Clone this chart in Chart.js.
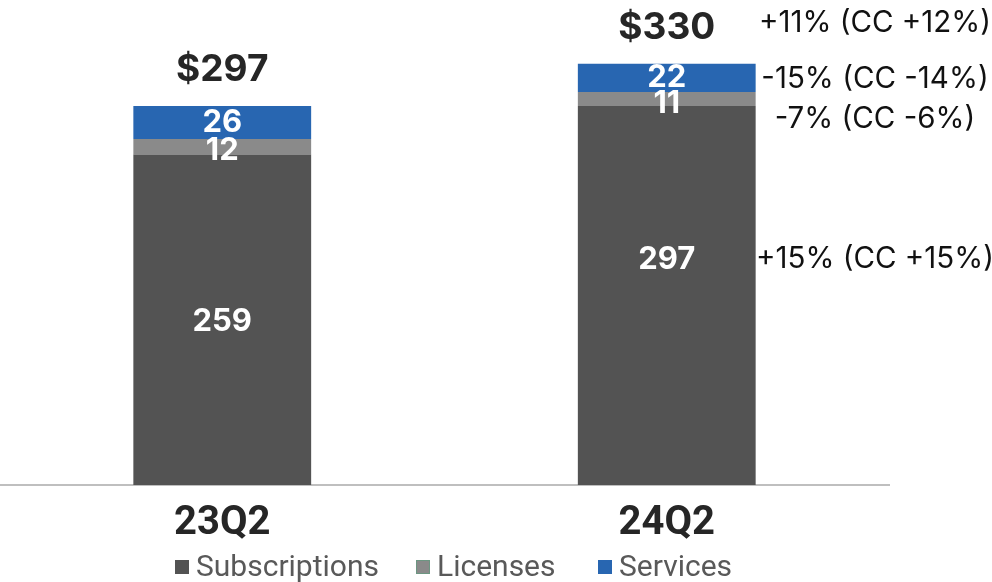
<!DOCTYPE html>
<html>
<head>
<meta charset="utf-8">
<script src="https://cdn.jsdelivr.net/npm/chart.js@4.4.1/dist/chart.umd.min.js"></script>
<style>
  html, body { margin: 0; padding: 0; background: #fff; }
  #wrap { width: 992px; height: 582px; }
</style>
</head>
<body>
<div id="wrap"><canvas id="chart_rev" width="992" height="582"></canvas></div>
<script>
// chart values
const categories = ["23Q2", "24Q2"];
const subscriptions = [259, 297];
const licenses = [12, 11];
const services = [26, 22];
const totalLabels = ["$297", "$330"];
// growth notes shown next to the 24Q2 bar (total, services, licenses, subscriptions)
const growthTotal = "+11% (CC +12%)";
const growthServices = "-15% (CC -14%)";
const growthLicenses = "-7% (CC -6%)";
const growthSubscriptions = "+15% (CC +15%)";

const colSubs = "#535353";
const colLic = "#8a8a8a";
const colServ = "#2866b1";

// labels inside segments, totals on top, notes on the right
const labelPlugin = {
  id: "labelPlugin",
  afterDatasetsDraw(chart) {
    const ctx = chart.ctx;
    ctx.save();
    ctx.textAlign = "center";
    ctx.textBaseline = "middle";

    // segment values
    const segOffsets = [
      [2, -36],  // subscriptions
      [4, 5],    // licenses
      [0, 0],    // services
    ];
    chart.data.datasets.forEach((ds, di) => {
      const meta = chart.getDatasetMeta(di);
      meta.data.forEach((bar, i) => {
        const mid = (bar.y + bar.base) / 2 + segOffsets[di][i];
        ctx.fillStyle = "#ffffff";
        ctx.font = "bold 31px Inter, 'DejaVu Sans', sans-serif";
        ctx.fillText(ds.data[i], bar.x, mid);
      });
    });

    // totals
    const topMeta = chart.getDatasetMeta(2);
    topMeta.data.forEach((bar, i) => {
      ctx.fillStyle = "#262626";
      ctx.font = "bold 37px Inter, 'DejaVu Sans', sans-serif";
      ctx.fillText(totalLabels[i], bar.x, bar.y - 36);
    });

    // growth notes for the last bar
    const last = categories.length - 1;
    const noteX = 875;
    const sBar = chart.getDatasetMeta(0).data[last];
    const lBar = chart.getDatasetMeta(1).data[last];
    const vBar = chart.getDatasetMeta(2).data[last];
    ctx.fillStyle = "#111111";
    ctx.font = "29.5px Inter, 'DejaVu Sans', sans-serif";
    ctx.fillText(growthTotal, noteX, vBar.y - 41);
    ctx.fillText(growthServices, noteX, (vBar.y + vBar.base) / 2 + 1);
    ctx.fillText(growthLicenses, noteX, (lBar.y + lBar.base) / 2 + 20);
    ctx.fillText(growthSubscriptions, noteX, (sBar.y + sBar.base) / 2 - 36);

    // legend
    const items = [
      { text: "Subscriptions", color: colSubs, x: 175 },
      { text: "Licenses", color: colLic, x: 416, dotted: true },
      { text: "Services", color: colServ, x: 598 },
    ];
    ctx.textAlign = "left";
    ctx.font = "30px Roboto, 'Liberation Sans', sans-serif";
    items.forEach((it) => {
      ctx.fillStyle = it.color;
      ctx.fillRect(it.x, 560, 14, 14);
      if (it.dotted) {
        ctx.strokeStyle = "#4fa37a";
        ctx.lineWidth = 1;
        ctx.setLineDash([1, 1]);
        ctx.strokeRect(it.x + 0.5, 560.5, 13, 13);
        ctx.setLineDash([]);
      }
      ctx.fillStyle = "#595959";
      ctx.fillText(it.text, it.x + 21, 568);
    });
    ctx.restore();
  },
};

function initializeRevenueChart() {
  const ctx1 = document.getElementById("chart_rev").getContext("2d");
  return new Chart(ctx1, {
    type: "bar",
    data: {
      labels: categories,
      datasets: [
        { label: "Subscriptions", data: subscriptions, backgroundColor: colSubs },
        { label: "Licenses", data: licenses, backgroundColor: colLic },
        { label: "Services", data: services, backgroundColor: colServ },
      ],
    },
    options: {
      responsive: false,
      animation: false,
      layout: { padding: { left: 0, right: 103, top: 0, bottom: 19 } },
      datasets: {
        bar: { barPercentage: 0.4, categoryPercentage: 1.0 },
      },
      scales: {
        x: {
          stacked: true,
          grid: { display: false, drawTicks: false },
          border: { display: true, color: "#bfbfbf", width: 2 },
          ticks: {
            color: "#262626",
            padding: 15,
            font: { family: "'Liberation Sans Narrow', Roboto, sans-serif", size: 40, weight: "bold" },
          },
        },
        y: {
          stacked: true,
          display: false,
          min: 0,
          max: 380,
        },
      },
      plugins: {
        legend: { display: false },
        tooltip: { enabled: false },
      },
    },
    plugins: [labelPlugin],
  });
}

initializeRevenueChart();
</script>
</body>
</html>
